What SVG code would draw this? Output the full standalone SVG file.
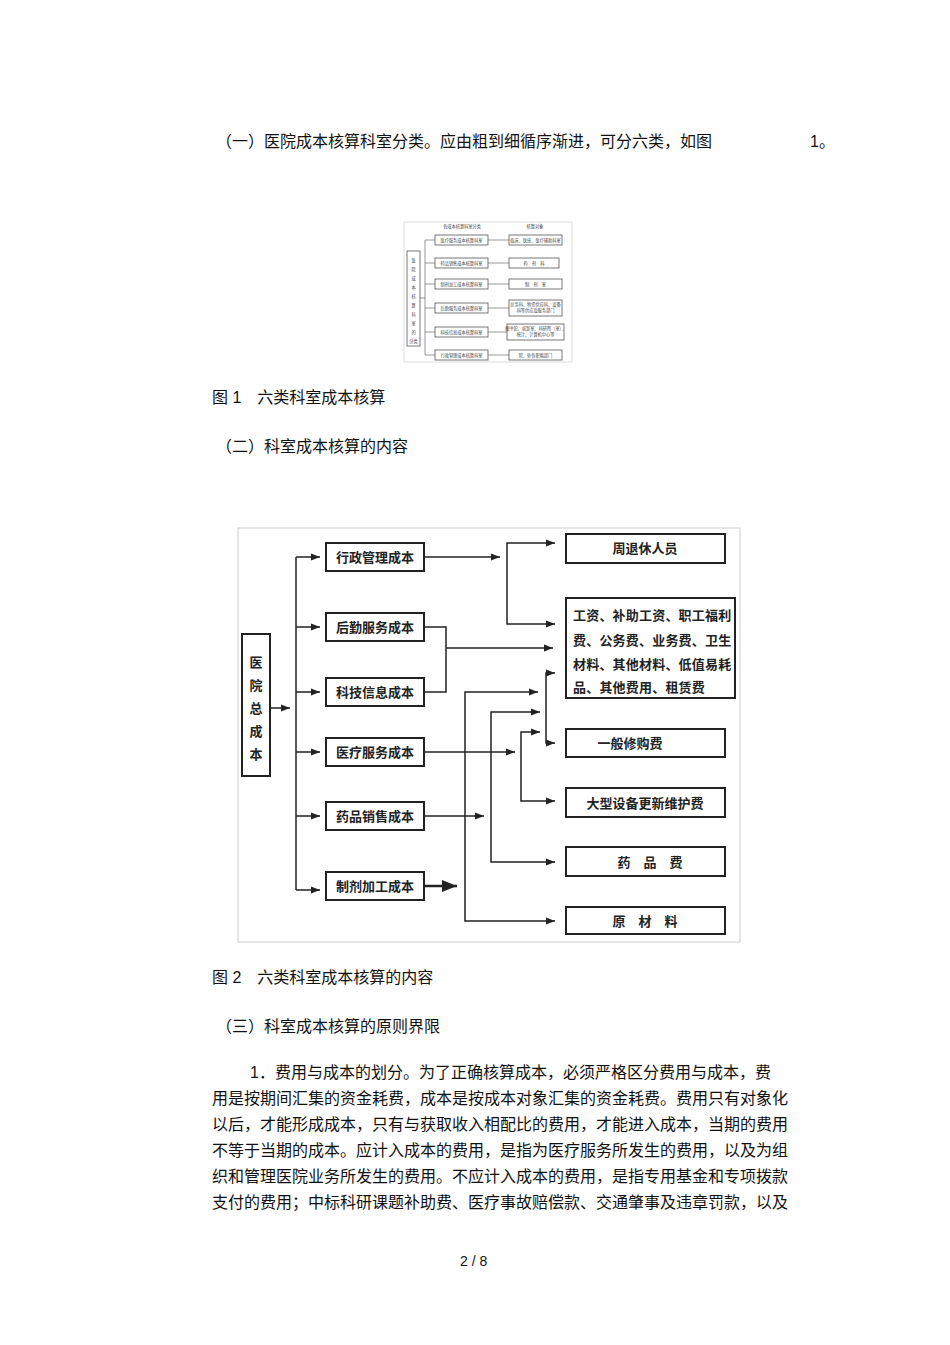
<svg xmlns="http://www.w3.org/2000/svg" width="950" height="1345" viewBox="0 0 950 1345">
<defs>
<marker id="a" viewBox="0 0 10 10" refX="10" refY="5" markerWidth="6" markerHeight="6" orient="auto"><path d="M0,1 L10,5 L0,9 z" fill="#222"/></marker>
<marker id="r" viewBox="0 0 10 10" refX="10" refY="5" markerWidth="6" markerHeight="6" orient="auto-start-reverse"><path d="M0,1 L10,5 L0,9 z" fill="#222"/></marker>
</defs>
<style>
.t{font-family:"Liberation Sans","Noto Sans CJK SC",sans-serif;font-size:16px;fill:#111}
.b{fill:#fff;stroke:#222;stroke-width:2}
.l{fill:none;stroke:#222;stroke-width:1.5}
.n{font-family:"Noto Sans CJK SC",sans-serif;font-size:13px;fill:#222;font-weight:bold;text-anchor:middle}
.w{font-family:"Noto Sans CJK SC",sans-serif;font-size:13px;fill:#222;font-weight:bold;letter-spacing:0.2px}
.sb{fill:#fff;stroke:#555;stroke-width:0.8}
.sl{fill:none;stroke:#555;stroke-width:0.6}
.st{font-family:"Noto Sans CJK SC",sans-serif;font-size:4.2px;fill:#444;text-anchor:middle}
</style>
<rect width="950" height="1345" fill="#fff"/>
<g id="body">
<text class="t" x="216" y="147">（一）医院成本核算科室分类。应由粗到细循序渐进，可分六类，如图</text>
<text class="t" x="810" y="147">1。</text>
<text class="t" x="212" y="403">图 1　六类科室成本核算</text>
<text class="t" x="216" y="452">（二）科室成本核算的内容</text>
<text class="t" x="212" y="983">图 2　六类科室成本核算的内容</text>
<text class="t" x="216" y="1032">（三）科室成本核算的原则界限</text>
<text class="t" x="250" y="1078">1．费用与成本的划分。为了正确核算成本，必须严格区分费用与成本，费</text>
<text class="t" x="212" y="1104">用是按期间汇集的资金耗费，成本是按成本对象汇集的资金耗费。费用只有对象化</text>
<text class="t" x="212" y="1130">以后，才能形成成本，只有与获取收入相配比的费用，才能进入成本，当期的费用</text>
<text class="t" x="212" y="1156">不等于当期的成本。应计入成本的费用，是指为医疗服务所发生的费用，以及为组</text>
<text class="t" x="212" y="1182">织和管理医院业务所发生的费用。不应计入成本的费用，是指专用基金和专项拨款</text>
<text class="t" x="212" y="1208">支付的费用；中标科研课题补助费、医疗事故赔偿款、交通肇事及违章罚款，以及</text>
<text class="t" x="460" y="1266" style="font-size:14px">2 / 8</text>
</g>
<g id="fig1">
<rect x="404" y="222" width="168" height="140" fill="#fff" stroke="#ddd"/>
<text class="st" x="462" y="228">各成本核算科室分类</text>
<text class="st" x="535" y="228">核算对象</text>
<rect class="sb" x="407" y="251" width="13" height="95"/>
<text class="st" x="413.5" y="262">医</text><text class="st" x="413.5" y="271">院</text><text class="st" x="413.5" y="280">成</text><text class="st" x="413.5" y="289">本</text><text class="st" x="413.5" y="298">核</text><text class="st" x="413.5" y="307">算</text><text class="st" x="413.5" y="316">科</text><text class="st" x="413.5" y="325">室</text><text class="st" x="413.5" y="334">的</text><text class="st" x="413.5" y="343">分类</text>
<path class="sl" d="M420,298 H425 M425,240 V355 M425,240 H435 M425,263 H435 M425,284 H435 M425,308 H435 M425,332 H435 M425,355 H435"/>
<g class="sb">
<rect x="435" y="235" width="53" height="10"/><rect x="435" y="258" width="53" height="10"/><rect x="435" y="279" width="53" height="10"/><rect x="435" y="303" width="53" height="10"/><rect x="435" y="327" width="53" height="10"/><rect x="435" y="350" width="53" height="10"/>
<rect x="509" y="235" width="53" height="10"/><rect x="509" y="258" width="50" height="10"/><rect x="509" y="279" width="53" height="10"/><rect x="509" y="300" width="53" height="16"/><rect x="507" y="324" width="57" height="16"/><rect x="509" y="350" width="53" height="10"/>
</g>
<path class="sl" d="M488,240 H509 M488,263 H509 M488,284 H509 M488,308 H509 M488,332 H507 M488,355 H509"/>
<text class="st" x="461.5" y="241.5">医疗服务成本核算科室</text>
<text class="st" x="461.5" y="264.5">药品销售成本核算科室</text>
<text class="st" x="461.5" y="285.5">制剂加工成本核算科室</text>
<text class="st" x="461.5" y="309.5">后勤服务成本核算科室</text>
<text class="st" x="461.5" y="333.5">科技信息成本核算科室</text>
<text class="st" x="461.5" y="356.5">行政管理成本核算科室</text>
<text class="st" x="535.5" y="241.5">临床、医技、医疗辅助科室</text>
<text class="st" x="534" y="264.5">药　剂　科</text>
<text class="st" x="535.5" y="285.5">制　剂　室</text>
<text class="st" x="535.5" y="306">总务科、物资供应科、设备</text>
<text class="st" x="535.5" y="312">科等供应及服务部门</text>
<text class="st" x="535.5" y="330">图书馆、病案室、科研所（室）、</text>
<text class="st" x="535.5" y="336">统计、计算机中心等</text>
<text class="st" x="535.5" y="356.5">院、处各职能部门</text>
</g>
<g id="frame2"><rect x="238" y="528" width="502" height="414" fill="#fff" stroke="#ccc"/></g>
<g id="connectors">
<path class="l" d="M270,708 H290" marker-end="url(#a)"/>
<path class="l" d="M296,557 V890"/>
<path class="l" d="M296,557 H320" marker-end="url(#a)"/>
<path class="l" d="M296,627 H320" marker-end="url(#a)"/>
<path class="l" d="M296,692 H320" marker-end="url(#a)"/>
<path class="l" d="M296,752 H320" marker-end="url(#a)"/>
<path class="l" d="M296,816 H320" marker-end="url(#a)"/>
<path class="l" d="M296,890 H320" marker-end="url(#a)"/>
<path class="l" d="M424,557 H500" marker-end="url(#a)"/>
<path class="l" d="M555,543 H507 V624 H555" marker-start="url(#r)" marker-end="url(#r)"/>
<path class="l" d="M424,627 H446 V692 H424"/>
<path class="l" d="M446,648 H553" marker-end="url(#a)"/>
<path class="l" d="M538,692 H465 V921 H555" marker-start="url(#r)" marker-end="url(#r)"/>
<path class="l" d="M424,886 H457" marker-end="url(#a)" style="stroke-width:2.5"/>
<path class="l" d="M540,712 H491 V862 H555" marker-start="url(#r)" marker-end="url(#r)"/>
<path class="l" d="M424,816 H484" marker-end="url(#a)"/>
<path class="l" d="M424,752 H515" marker-end="url(#a)"/>
<path class="l" d="M540,732 H521 V801 H555" marker-start="url(#r)" marker-end="url(#r)"/>
<path class="l" d="M555,673 H546 V743 H555" marker-start="url(#r)" marker-end="url(#r)"/>
</g>
<g id="n0"><rect class="b" x="242" y="634" width="28" height="142"/>
<text class="n" x="256" y="667">医</text><text class="n" x="256" y="690">院</text><text class="n" x="256" y="713">总</text><text class="n" x="256" y="736">成</text><text class="n" x="256" y="759">本</text></g>
<g id="m1"><rect class="b" x="326" y="543" width="98" height="28"/><text class="n" x="375" y="562">行政管理成本</text></g>
<g id="m2"><rect class="b" x="326" y="613" width="98" height="28"/><text class="n" x="375" y="632">后勤服务成本</text></g>
<g id="m3"><rect class="b" x="326" y="678" width="98" height="28"/><text class="n" x="375" y="697">科技信息成本</text></g>
<g id="m4"><rect class="b" x="326" y="738" width="98" height="28"/><text class="n" x="375" y="757">医疗服务成本</text></g>
<g id="m5"><rect class="b" x="326" y="802" width="98" height="28"/><text class="n" x="375" y="821">药品销售成本</text></g>
<g id="m6"><rect class="b" x="326" y="872" width="98" height="28"/><text class="n" x="375" y="891">制剂加工成本</text></g>
<g id="r1"><rect class="b" x="566" y="534" width="159" height="29"/><text class="n" x="645" y="553">周退休人员</text></g>
<g id="r2"><rect class="b" x="566" y="598" width="169" height="100"/>
<text class="w" x="573" y="620">工资、补助工资、职工福利</text>
<text class="w" x="573" y="645">费、公务费、业务费、卫生</text>
<text class="w" x="573" y="669">材料、其他材料、低值易耗</text>
<text class="w" x="573" y="692">品、其他费用、租赁费</text></g>
<g id="r3"><rect class="b" x="566" y="729" width="159" height="28"/><text class="n" x="630" y="748">一般修购费</text></g>
<g id="r4"><rect class="b" x="566" y="788" width="159" height="29"/><text class="n" x="645" y="808">大型设备更新维护费</text></g>
<g id="r5"><rect class="b" x="566" y="847" width="159" height="29"/><text class="n" x="650" y="867">药　品　费</text></g>
<g id="r6"><rect class="b" x="566" y="907" width="159" height="27"/><text class="n" x="645" y="926">原　材　料</text></g>
</svg>
